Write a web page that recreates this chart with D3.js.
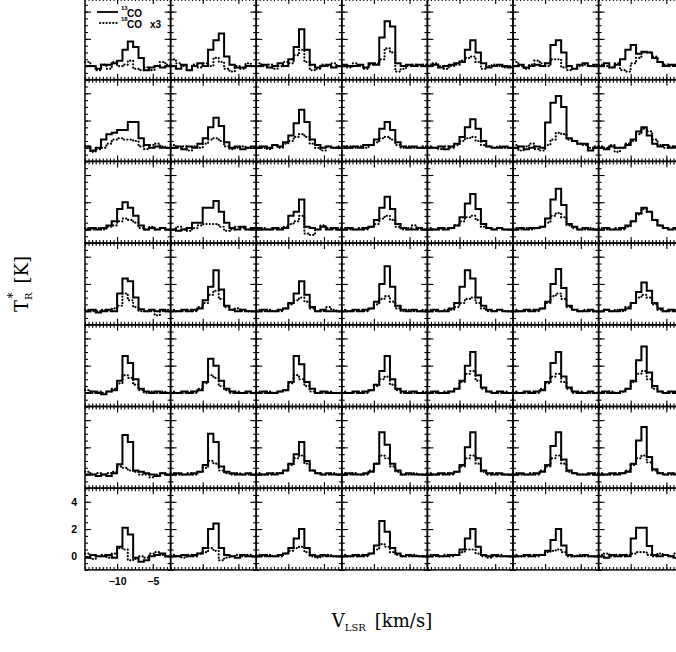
<!DOCTYPE html>
<html lang="en">
<head>
<meta charset="UTF-8">
<title>CO spectra grid</title>
<script src="https://d3js.org/d3.v7.min.js"></script>
<style>
  body { margin: 0; background: #fff; }
  svg { display: block; }
</style>
</head>
<body>
<svg width="676" height="652"></svg>
<script>
// velocity channels (km/s): 16 channels of 0.75 km/s
const vStart = -14.5;
const chanWidth = 0.75;
const vDomain = [-14.5, -2.5];
const tDomain = [-1, 5];
const xTickLabels = [-10, -5];
const yTickLabels = [0, 2, 4];
const legendLabels = ["13", "18"];

// solid line (13CO) per row, 7 panels per row, 16 channels each
const solidRow0 = [
  [0.0,0.0,-0.2,0.1,0.1,0.2,0.4,1.2,1.8,1.4,0.6,-0.3,-0.1,0.0,-0.1,0.0],
  [0.0,-0.2,0.1,-0.3,0.0,0.2,0.0,1.2,1.9,2.4,0.7,0.1,-0.1,-0.1,0.0,0.0],
  [0.0,0.1,-0.1,0.0,0.2,0.0,0.5,1.4,2.7,1.2,0.1,-0.1,0.0,0.1,-0.1,0.0],
  [0.1,0.0,0.0,0.1,-0.1,0.2,0.1,2.1,3.3,2.9,0.2,0.0,0.1,0.0,0.1,0.0],
  [0.0,0.1,-0.1,0.0,0.1,0.2,0.3,1.2,1.9,1.0,0.2,-0.1,0.0,0.1,0.0,-0.1],
  [0.0,0.1,-0.1,0.0,0.1,0.0,0.2,1.55,1.9,1.0,0.0,-0.2,0.1,0.2,0.0,0.1],
  [0.0,0.2,-0.1,0.1,0.5,1.2,1.55,0.9,1.05,1.0,0.6,0.3,0.0,0.1,0.0,0.0]
];
const solidRow1 = [
  [0.1,-0.2,0.0,0.6,1.0,1.1,1.3,1.3,1.9,1.9,0.7,0.2,0.0,0.1,0.0,0.0],
  [0.0,0.1,-0.1,0.1,0.0,0.3,0.7,1.5,2.2,1.6,0.4,0.0,0.1,-0.1,0.0,0.1],
  [0.0,0.1,0.0,0.2,0.1,0.4,0.9,1.8,2.8,1.9,0.6,0.2,0.0,0.1,0.0,0.0],
  [0.1,0.0,0.1,0.0,0.2,0.2,0.6,1.4,1.9,1.3,0.4,0.1,0.0,0.1,0.0,0.0],
  [0.0,0.0,0.1,-0.1,0.1,0.3,0.8,1.5,2.1,1.4,0.5,0.1,0.0,0.0,0.1,0.0],
  [0.0,0.1,-0.1,0.0,0.1,0.0,1.85,3.3,3.8,3.0,0.7,0.5,0.3,0.3,-0.2,0.0],
  [0.0,-0.1,0.1,0.0,0.0,0.2,0.6,1.2,1.5,0.9,0.3,0.1,0.2,0.0,0.1,0.0]
];
const solidRow2 = [
  [0.0,0.1,0.0,0.1,0.3,0.6,1.5,2.0,1.6,1.0,0.3,0.0,0.1,0.0,0.1,0.0],
  [0.0,-0.1,0.0,0.1,0.5,0.5,1.6,1.6,2.1,1.3,0.5,0.1,0.0,0.2,0.0,0.1],
  [0.1,0.0,0.0,0.1,0.0,0.1,1.0,1.3,2.2,0.2,0.1,0.0,0.2,0.0,0.1,0.0],
  [0.0,0.1,0.0,0.0,0.1,0.2,0.7,1.6,2.4,1.5,0.4,0.1,0.0,0.0,0.1,0.0],
  [0.0,0.0,0.1,0.0,0.1,0.3,0.9,1.9,2.6,1.5,0.4,0.1,0.0,0.1,0.0,0.0],
  [0.0,0.1,0.0,0.1,0.1,0.2,0.8,2.2,3.0,1.8,0.4,0.2,0.0,0.1,0.0,0.0],
  [0.0,0.1,0.0,0.0,0.1,0.3,0.6,1.2,1.6,1.3,0.7,0.3,0.1,0.0,0.1,0.0]
];
const solidRow3 = [
  [0.0,0.1,-0.1,0.0,0.1,0.0,1.3,2.4,2.2,1.0,0.15,0.0,0.1,0.0,0.1,0.0],
  [0.0,0.0,0.1,0.0,0.1,0.2,0.8,1.8,3.0,1.6,0.4,0.1,0.0,0.1,0.0,0.0],
  [0.0,0.1,0.0,0.0,0.1,0.2,0.6,1.3,2.2,1.2,0.3,0.0,0.1,0.0,0.0,0.0],
  [0.0,0.0,0.1,0.0,0.1,0.2,0.7,2.0,3.3,1.8,0.4,0.1,0.0,0.1,0.0,0.0],
  [0.0,0.1,0.0,0.0,0.2,0.6,1.8,3.0,2.4,1.0,0.4,0.1,0.0,0.1,0.0,0.0],
  [0.0,0.0,0.1,0.0,0.1,0.2,0.7,2.0,3.1,1.7,0.4,0.1,0.0,0.0,0.1,0.0],
  [0.0,0.1,0.0,0.0,0.1,0.2,0.6,1.4,2.1,1.5,0.6,0.2,0.0,0.1,0.0,0.0]
];
const solidRow4 = [
  [0.0,0.1,0.0,-0.1,0.1,0.2,0.9,2.7,2.2,1.0,0.3,0.1,0.0,0.1,0.0,0.0],
  [0.0,0.0,0.1,0.0,0.1,0.2,0.8,2.5,2.0,0.9,0.3,0.1,0.0,0.0,0.1,0.0],
  [0.0,0.1,0.0,0.0,0.1,0.2,0.8,2.7,2.1,0.8,0.3,0.0,0.1,0.0,0.0,0.0],
  [0.0,0.0,0.1,0.0,0.1,0.2,0.6,1.6,2.7,1.0,0.3,0.1,0.0,0.1,0.0,0.0],
  [0.0,0.1,0.0,0.0,0.1,0.3,0.9,2.0,3.0,1.3,0.4,0.1,0.0,0.1,0.0,0.0],
  [0.0,0.0,0.1,0.0,0.1,0.2,0.8,2.2,3.0,1.2,0.4,0.1,0.0,0.0,0.1,0.0],
  [0.0,0.1,0.0,0.0,0.1,0.3,0.9,2.4,3.4,1.5,0.5,0.1,0.0,0.1,0.0,0.0]
];
const solidRow5 = [
  [0.0,0.0,-0.1,0.0,-0.1,0.1,0.75,2.9,2.4,0.3,0.2,0.1,0.0,-0.1,0.1,0.0],
  [0.0,0.1,0.0,0.0,0.1,0.2,0.7,3.0,2.4,0.6,0.2,0.1,0.0,0.0,0.1,0.0],
  [0.0,0.0,0.1,0.0,0.1,0.3,0.8,1.5,2.4,1.0,0.3,0.1,0.0,0.1,0.0,0.0],
  [0.0,0.1,0.0,0.0,0.1,0.2,0.8,3.1,2.2,0.8,0.3,0.0,0.1,0.0,0.0,0.0],
  [0.0,0.0,0.1,0.0,0.1,0.2,0.7,2.0,3.1,1.2,0.3,0.1,0.0,0.1,0.0,0.0],
  [0.0,0.1,0.0,0.0,0.1,0.2,0.7,2.1,3.1,1.1,0.3,0.1,0.0,0.0,0.1,0.0],
  [0.0,0.0,0.1,0.0,0.1,0.2,0.8,2.5,3.5,1.3,0.4,0.1,0.0,0.1,0.0,0.0]
];
const solidRow6 = [
  [-0.1,0.1,0.0,0.0,0.1,-0.1,0.7,2.1,1.6,-0.1,-0.4,-0.3,0.0,0.1,0.2,0.0],
  [0.0,0.0,0.1,0.0,0.1,0.2,0.6,2.0,2.4,0.6,0.1,0.0,-0.1,0.1,0.0,0.0],
  [0.0,0.1,0.0,0.0,0.1,0.2,0.6,1.3,2.0,0.6,0.1,0.0,0.1,0.0,0.0,0.0],
  [0.0,0.0,0.1,0.0,0.1,0.2,0.8,2.6,1.8,0.6,0.2,0.0,0.1,0.0,0.0,0.0],
  [0.0,0.1,0.0,0.0,0.1,0.1,0.5,1.3,2.0,0.7,0.1,0.0,0.1,0.0,0.0,0.0],
  [0.0,0.0,0.1,0.0,0.1,0.1,0.4,1.2,2.0,0.8,0.1,0.0,0.0,0.1,0.0,0.0],
  [0.0,-0.1,0.1,0.0,0.1,0.0,1.3,2.1,2.1,0.75,0.1,0.0,0.1,0.0,-0.1,0.0]
];

// dotted line (C18O x3) per row
const dottedRow0 = [
  [0.3,0.0,-0.3,0.1,-0.2,0.3,0.0,0.1,0.4,-0.2,-0.3,-0.1,-0.3,0.0,0.3,0.1],
  [0.5,0.2,0.0,-0.3,0.1,-0.1,0.2,0.0,0.6,0.3,-0.2,-0.4,0.0,-0.2,0.2,0.0],
  [0.2,0.0,0.1,-0.2,0.0,0.3,0.2,0.8,1.2,0.3,-0.3,-0.2,0.1,0.0,0.2,0.0],
  [0.0,-0.1,0.2,0.0,-0.2,0.1,0.2,0.5,1.3,1.0,-0.4,-0.2,0.0,0.1,0.0,0.1],
  [0.1,0.2,0.0,-0.2,0.0,0.1,0.4,0.6,0.7,0.3,-0.2,0.0,0.1,0.0,-0.1,0.0],
  [0.3,0.0,-0.2,0.1,0.4,0.2,0.0,0.5,0.5,-0.1,-0.3,-0.2,0.0,0.1,0.0,0.0],
  [0.1,0.0,-0.1,0.2,-0.3,-0.4,0.2,0.6,1.0,1.0,0.7,0.3,0.1,0.0,0.1,0.0]
];
const dottedRow1 = [
  [0.1,-0.3,-0.1,0.0,0.3,0.6,0.7,0.6,0.6,0.5,0.1,-0.1,0.2,0.3,0.1,0.0],
  [0.2,0.0,0.1,-0.2,0.1,0.0,0.3,0.6,0.7,0.5,0.1,-0.1,0.0,0.1,0.0,0.0],
  [0.1,0.0,-0.1,0.2,0.0,0.3,0.5,0.8,1.0,0.8,0.3,0.0,-0.2,0.1,0.0,0.1],
  [0.0,0.1,0.0,0.1,0.0,0.2,0.4,0.7,0.8,0.6,0.2,0.0,0.1,0.0,0.0,0.1],
  [0.1,0.0,-0.1,0.1,0.0,0.2,0.5,0.7,0.8,0.5,0.2,0.1,0.0,0.1,0.0,0.0],
  [0.2,-0.2,0.1,0.3,-0.1,-0.2,0.2,0.6,1.1,1.0,0.6,0.5,0.3,0.2,0.0,0.1],
  [0.1,0.0,0.2,-0.3,0.0,0.3,0.5,1.0,1.4,1.2,0.6,0.2,0.0,0.1,0.0,0.0]
];
const dottedRow2 = [
  [0.1,0.0,0.1,0.0,0.2,0.3,0.6,0.8,0.7,0.5,0.1,0.0,0.2,0.0,0.1,0.0],
  [0.0,0.2,0.0,-0.1,0.1,0.3,0.4,0.4,0.4,0.2,-0.1,0.0,0.2,0.1,0.0,0.0],
  [0.0,0.1,0.0,0.0,0.1,0.2,0.4,0.6,1.0,-0.3,-0.4,0.0,0.3,0.1,0.0,0.1],
  [0.1,0.0,0.0,0.1,0.0,0.2,0.4,0.8,1.0,0.7,0.2,0.0,0.1,0.3,0.0,0.0],
  [0.1,0.0,0.0,0.1,0.1,0.3,0.6,0.9,1.0,0.7,0.2,0.1,0.0,0.1,0.0,0.0],
  [0.1,0.0,0.1,0.0,0.1,0.2,0.5,1.0,1.2,0.9,0.3,0.1,0.0,0.0,0.1,0.0],
  [0.1,0.0,0.0,0.1,0.0,0.2,0.6,1.1,1.5,1.3,0.7,0.3,0.1,0.0,0.0,0.0]
];
const dottedRow3 = [
  [0.1,0.0,0.0,0.1,0.0,0.2,0.4,1.3,0.8,0.3,0.0,0.0,0.0,-0.3,0.0,0.1],
  [0.1,0.0,0.0,0.1,0.0,0.3,0.6,1.2,1.5,0.9,0.3,0.1,0.2,0.0,0.0,0.0],
  [0.1,0.0,0.1,0.0,0.0,0.2,0.5,0.8,1.0,0.7,0.2,0.0,0.0,0.3,0.1,0.0],
  [0.1,0.0,0.0,0.1,0.0,0.2,0.5,0.9,1.1,0.7,0.2,0.0,0.1,0.0,0.0,0.1],
  [0.1,0.0,0.0,0.1,0.1,0.3,0.6,0.9,1.0,0.6,0.2,0.0,0.0,0.1,0.0,0.0],
  [0.1,0.0,0.0,0.1,0.0,0.2,0.6,1.1,1.3,0.9,0.3,0.1,0.0,0.1,0.0,0.0],
  [0.0,0.1,0.0,0.1,0.0,0.3,0.6,1.0,1.2,1.0,0.5,0.1,0.0,0.0,0.1,0.0]
];
const dottedRow4 = [
  [0.2,0.0,0.1,0.0,0.1,0.3,0.7,1.3,1.1,0.6,0.2,0.0,0.1,0.0,0.1,0.0],
  [0.1,0.0,0.0,0.1,0.0,0.3,0.7,1.3,1.1,0.5,0.2,0.0,0.1,0.0,0.0,0.0],
  [0.1,0.0,0.1,0.0,0.1,0.2,0.7,1.3,1.0,0.5,0.1,0.0,0.0,0.1,0.0,0.0],
  [0.1,0.0,0.0,0.1,0.0,0.2,0.5,1.0,1.2,0.6,0.2,0.0,0.1,0.0,0.0,0.1],
  [0.1,0.0,0.0,0.1,0.1,0.3,0.8,1.4,1.6,0.9,0.3,0.1,0.0,0.0,0.1,0.0],
  [0.1,0.0,0.0,0.1,0.0,0.3,0.7,1.2,1.4,0.8,0.3,0.0,0.1,0.0,0.0,0.0],
  [0.1,0.0,0.1,0.0,0.1,0.3,0.8,1.4,1.6,1.0,0.3,0.1,0.0,0.0,0.1,0.0]
];
const dottedRow5 = [
  [0.2,0.0,0.1,0.0,0.1,0.2,0.6,0.5,0.3,0.2,0.0,0.0,-0.2,0.0,0.1,0.0],
  [0.1,0.0,0.0,0.1,0.0,0.2,0.5,1.0,0.8,0.3,0.1,0.0,0.1,0.0,0.0,0.0],
  [0.1,0.0,0.0,0.1,0.1,0.3,0.7,1.2,1.4,0.8,0.3,0.1,0.0,0.0,0.1,0.0],
  [0.1,0.0,0.1,0.0,0.0,0.3,0.8,1.4,1.2,0.6,0.2,0.0,0.0,0.1,0.0,0.0],
  [0.1,0.0,0.0,0.1,0.0,0.2,0.6,1.2,1.4,0.8,0.2,0.0,0.1,0.0,0.0,0.0],
  [0.1,0.0,0.0,0.1,0.0,0.3,0.6,1.2,1.4,0.8,0.2,0.1,0.0,0.0,0.0,0.1],
  [0.1,0.0,0.0,0.1,0.1,0.3,0.7,1.2,1.4,0.9,0.3,0.1,0.0,0.0,0.1,0.0]
];
const dottedRow6 = [
  [0.2,-0.2,0.0,0.1,-0.1,0.2,0.6,0.5,-0.3,-0.2,0.0,-0.1,0.2,0.3,0.1,0.0],
  [0.1,0.0,-0.1,0.1,0.0,0.2,0.3,0.6,0.4,-0.3,-0.1,0.0,0.1,0.0,0.1,0.0],
  [0.1,0.0,0.1,0.0,0.0,0.2,0.4,0.6,0.7,0.3,0.0,-0.1,0.0,0.1,0.0,0.0],
  [0.1,0.0,0.0,0.1,0.0,0.2,0.5,0.9,0.7,0.3,0.1,0.0,0.0,0.1,0.0,0.0],
  [0.1,0.0,0.0,0.1,0.0,0.1,0.3,0.5,0.5,0.2,0.0,-0.1,0.0,0.1,0.0,0.0],
  [0.1,0.0,0.0,0.1,0.0,0.1,0.3,0.4,0.5,0.3,0.0,0.0,0.1,0.0,0.0,0.0],
  [0.1,0.2,0.0,0.1,0.0,0.1,0.2,0.3,0.3,0.1,0.0,0.2,0.1,0.0,0.2,0.0]
];

const solidRows = [solidRow0, solidRow1, solidRow2, solidRow3, solidRow4, solidRow5, solidRow6];
const dottedRows = [dottedRow0, dottedRow1, dottedRow2, dottedRow3, dottedRow4, dottedRow5, dottedRow6];

// layout
const gridLeft = 85, gridTop = -2;
const panelW = 85.6, panelH = 81.7;

const svg = d3.select('svg');

const x = d3.scaleLinear().domain(vDomain).range([0, panelW]);
const y = d3.scaleLinear().domain(tDomain).range([panelH, 0]);

const stepLine = d3.line()
  .x(d => x(d[0]))
  .y(d => y(d[1]))
  .curve(d3.curveStepAfter);

function toPoints(vals) {
  const pts = vals.map((v, i) => [vStart + i * chanWidth, v]);
  pts.push([vStart + vals.length * chanWidth, vals[vals.length - 1]]);
  return pts;
}

const xMinor = d3.range(-14.5, -2.4, 0.5);
const yMinor = d3.range(-1, 5.01, 0.5);
const xMajor = xTickLabels;
const yMajor = [0, 2, 4];

function drawTicks(g) {
  const specs = [
    [d3.axisBottom(x), `translate(0,${panelH})`, xMinor, 3],
    [d3.axisBottom(x), `translate(0,${panelH})`, xMajor, 6],
    [d3.axisTop(x), 'translate(0,0)', xMinor, 3],
    [d3.axisTop(x), 'translate(0,0)', xMajor, 6],
    [d3.axisLeft(y), 'translate(0,0)', yMinor, 3],
    [d3.axisLeft(y), 'translate(0,0)', yMajor, 6],
    [d3.axisRight(y), `translate(${panelW},0)`, yMinor, 3],
    [d3.axisRight(y), `translate(${panelW},0)`, yMajor, 6]
  ];
  specs.forEach(([ax, tr, vals, len]) => {
    g.append('g')
      .attr('transform', tr)
      .call(ax.tickValues(vals).tickSize(-len).tickSizeOuter(0).tickFormat(''))
      .call(a => a.select('.domain').remove())
      .selectAll('line')
      .attr('stroke', '#000')
      .attr('stroke-width', 1.1);
  });
}

for (let r = 0; r < 7; r++) {
  for (let c = 0; c < 7; c++) {
    const g = svg.append('g')
      .attr('transform', `translate(${gridLeft + c * panelW},${gridTop + r * panelH})`);

    drawTicks(g);

    g.append('path')
      .attr('d', stepLine(toPoints(dottedRows[r][c])))
      .attr('fill', 'none')
      .attr('stroke', '#000')
      .attr('stroke-width', 2.2)
      .attr('stroke-linecap', 'round')
      .attr('stroke-dasharray', '0.1,3.2');

    g.append('path')
      .attr('d', stepLine(toPoints(solidRows[r][c])))
      .attr('fill', 'none')
      .attr('stroke', '#000')
      .attr('stroke-width', 2);

    g.append('rect')
      .attr('width', panelW)
      .attr('height', panelH)
      .attr('fill', 'none')
      .attr('stroke', '#000')
      .attr('stroke-width', 1.5);

    // tick labels only on bottom-left panel
    if (r === 6 && c === 0) {
      g.append('g')
        .call(d3.axisLeft(y).tickValues(yTickLabels).tickSize(0).tickPadding(8).tickFormat(d3.format('d')))
        .call(a => a.select('.domain').remove())
        .selectAll('text')
        .attr('font-family', 'Liberation Sans, Arial, sans-serif')
        .attr('font-size', 10.5)
        .attr('font-weight', 'bold')
        .attr('fill', '#000');
      g.append('g')
        .attr('transform', `translate(0,${panelH})`)
        .call(d3.axisBottom(x).tickValues(xTickLabels).tickSize(0).tickPadding(8).tickFormat(d3.format('d')))
        .call(a => a.select('.domain').remove())
        .selectAll('text')
        .attr('font-family', 'Liberation Sans, Arial, sans-serif')
        .attr('font-size', 10.5)
        .attr('font-weight', 'bold')
        .attr('fill', '#000');
    }
  }
}

// legend in the first panel
const leg = svg.append('g').attr('font-family', 'Liberation Sans, Arial, sans-serif')
  .attr('font-weight', 'bold').attr('fill', '#000');
leg.append('line').attr('x1', 97).attr('x2', 118).attr('y1', 12).attr('y2', 12)
  .attr('stroke', '#000').attr('stroke-width', 1.8);
leg.append('line').attr('x1', 100).attr('x2', 118).attr('y1', 23).attr('y2', 23)
  .attr('stroke', '#000').attr('stroke-width', 2.2)
  .attr('stroke-linecap', 'round').attr('stroke-dasharray', '0.1,3.2');
leg.append('text').attr('x', 121).attr('y', 10).attr('font-size', 6).text(legendLabels[0]);
leg.append('text').attr('x', 127).attr('y', 17).attr('font-size', 10).text('CO');
leg.append('text').attr('x', 121).attr('y', 21).attr('font-size', 6).text(legendLabels[1]);
leg.append('text').attr('x', 127).attr('y', 28).attr('font-size', 10).text('CO');
leg.append('text').attr('x', 150).attr('y', 28).attr('font-size', 10).text('x3');

// axis titles
const serif = 'DejaVu Serif, Liberation Serif, serif';
const xt = svg.append('text')
  .attr('x', 382).attr('y', 627)
  .attr('text-anchor', 'middle')
  .attr('font-family', serif).attr('font-size', 18).attr('fill', '#000');
xt.append('tspan').text('V');
xt.append('tspan').attr('font-size', 10).attr('dy', 4).text('LSR');
xt.append('tspan').attr('dy', -4).text('\u2002[km/s]');

const yt = svg.append('text')
  .attr('transform', 'translate(28,284) rotate(-90)')
  .attr('text-anchor', 'middle')
  .attr('font-family', serif).attr('font-size', 18).attr('fill', '#000');
yt.append('tspan').text('T');
yt.append('tspan').attr('font-size', 10).attr('dy', 4).text('R');
yt.append('tspan').attr('font-size', 12).attr('dx', -6).attr('dy', -15).text('*');
yt.append('tspan').attr('dy', 11).text('\u2002[K]');
</script>
</body>
</html>
